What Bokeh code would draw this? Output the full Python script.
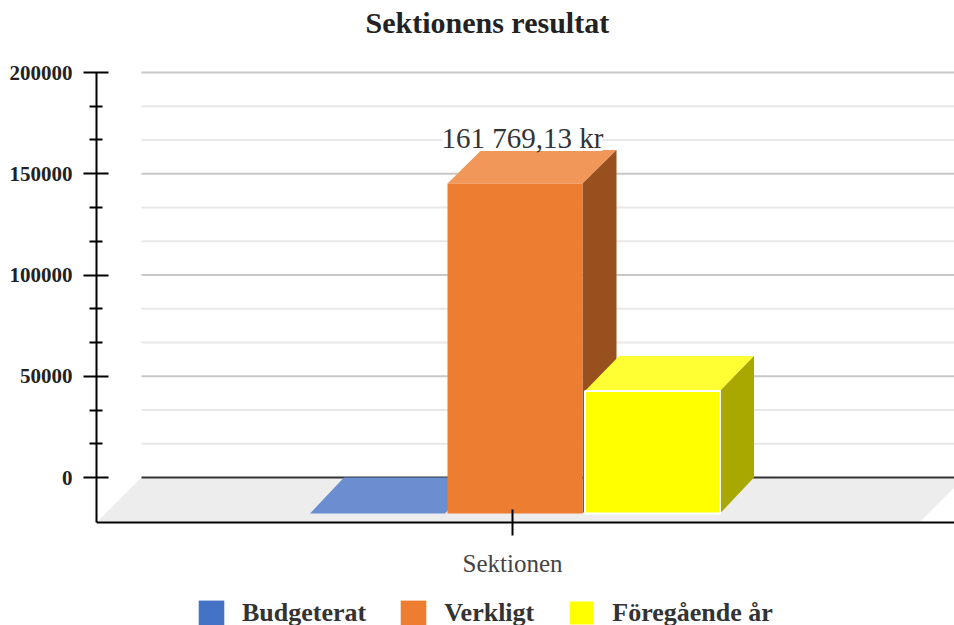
from bokeh.plotting import figure
from bokeh.models import Range1d, LinearAxis, FixedTicker, Legend, LegendItem, BasicTickFormatter
from bokeh.core.properties import value
from bokeh.embed import file_html
from bokeh.resources import INLINE

# ---- data
title_text = "Sektionens resultat"
category = "Sektionen"
series_names = ["Budgeterat", "Verkligt", "Föregående år"]
series_values = [0, 161769.13, 60000]
series_front = ["#4472c4", "#ed7d31", "#ffff00"]
series_top = ["#6a8ed0", "#f1975a", "#ffff33"]
series_side = ["#2f5089", "#98501e", "#a8a800"]
value_label = "161 769,13 kr"
major_values = [0, 50000, 100000, 150000, 200000]
minor_values = [16667, 33333, 66667, 83333, 116667, 133333, 166667, 183333]

# ---- geometry constants (pixels of the reference)
W, H = 954, 625
FONT = "Liberation Serif"
F_L, F_R, F_T, AXIS_B = 96, 954, 72, 522
ZERO_PX = 477
PX_PER_Y = (ZERO_PX - F_T) / 200000
PX_PER_X = 412.5
CAT_PX = 512
DX_PX, DY_PX = 34, 36
FRONT_SCALE = 330 / 327.6
BAR_W = 135 / PX_PER_X
PITCH = 137.5 / PX_PER_X
SHIFT = 2.5 / PX_PER_X
DX, DY = DX_PX / PX_PER_X, DY_PX / PX_PER_Y
FLOOR_DX = 45 / PX_PER_X

x0 = -(CAT_PX - F_L) / PX_PER_X
x1 = (F_R - CAT_PX) / PX_PER_X
y_axis_bottom = -(AXIS_B - ZERO_PX) / PX_PER_Y
y_axis_top = 200000
y0 = -(H - ZERO_PX) / PX_PER_Y
y1 = ZERO_PX / PX_PER_Y

p = figure(width=W, height=H, output_backend="svg", toolbar_location=None,
           x_range=Range1d(x0, x1), y_range=Range1d(y0, y1),
           x_axis_type=None, y_axis_type=None,
           min_border_left=F_L, min_border_right=0, min_border_top=0,
           min_border_bottom=0, margin=0)
p.outline_line_color = None
p.xgrid.visible = False
p.ygrid.visible = False

# floor
fr = (919 - CAT_PX) / PX_PER_X
p.patch([x0, x0 + FLOOR_DX, fr + FLOOR_DX, fr], [y_axis_bottom, 0, 0, y_axis_bottom],
        fill_color="#ededed", line_color=None)

# gridlines, drawn on the back wall
back_left = x0 + FLOOR_DX
p.segment([back_left] * len(minor_values), minor_values, [x1] * len(minor_values), minor_values,
          line_color="#e8e8e8", line_width=2)
maj = [v for v in major_values if v != 0]
p.segment([back_left] * len(maj), maj, [x1] * len(maj), maj, line_color="#c8c8c8", line_width=2)
p.segment([back_left], [0], [x1], [0], line_color="#333333", line_width=2)

# 3D bars
legend_items = []
centers = []
for i, name in enumerate(series_names):
    v = series_values[i]
    c = (i - 1) * PITCH + SHIFT
    centers.append(c)
    l, r = c - BAR_W / 2, c + BAR_W / 2
    b = -DY
    t = v * FRONT_SCALE - DY
    p.patch([l, l + DX, r + DX, r], [t, v, v, t], fill_color=series_top[i], line_color=None)
    if v > 0:
        p.patch([r, r + DX, r + DX, r], [b, 0, v, t], fill_color=series_side[i], line_color=None)
    line = "#ffffff" if i == 2 else None
    q = p.quad(left=[l], right=[r], top=[t], bottom=[b], fill_color=series_front[i],
               line_color=line, line_width=2)
    legend_items.append(LegendItem(label=name, renderers=[q]))

# value label with white backing
lab_x = centers[1] + 7.5 / PX_PER_X
p.quad(left=[lab_x - 80 / PX_PER_X], right=[lab_x + 80 / PX_PER_X],
       bottom=[series_values[1] - 1 / PX_PER_Y], top=[series_values[1] + 22 / PX_PER_Y],
       fill_color="#ffffff", line_color=None)
p.text(x=[lab_x], y=[series_values[1]], text=[value_label],
       text_font=value(FONT), text_font_size="29px", text_color="#333333",
       text_align="center", text_baseline="bottom", y_offset=4)

# axes
ya = LinearAxis(ticker=FixedTicker(ticks=major_values, minor_ticks=minor_values),
                formatter=BasicTickFormatter(use_scientific=False),
                bounds=(y_axis_bottom, y_axis_top))
ya.axis_line_color = "black"; ya.axis_line_width = 2
ya.major_tick_line_color = "black"; ya.major_tick_line_width = 2
ya.minor_tick_line_color = "black"; ya.minor_tick_line_width = 2
ya.major_tick_in = 12; ya.major_tick_out = 13
ya.minor_tick_in = 6; ya.minor_tick_out = 7
ya.major_label_text_font = FONT; ya.major_label_text_font_size = "21px"
ya.major_label_text_color = "#222222"; ya.major_label_text_font_style = "bold"
ya.major_label_standoff = 11
p.add_layout(ya, "left")

xa = LinearAxis(ticker=FixedTicker(ticks=[0]), major_label_overrides={0: category},
                fixed_location=y_axis_bottom)
xa.axis_line_color = "black"; xa.axis_line_width = 2
xa.major_tick_line_color = "black"; xa.major_tick_line_width = 2
xa.major_tick_in = 13; xa.major_tick_out = 13
xa.minor_tick_line_color = None
xa.major_label_text_font = FONT; xa.major_label_text_font_size = "25px"
xa.major_label_text_color = "#444444"; xa.major_label_standoff = 14
p.add_layout(xa, "below")

# legend
leg = Legend(items=legend_items, orientation="horizontal", location=(195 - F_L, -3),
             glyph_width=32, glyph_height=31, label_standoff=15, spacing=31, padding=0, margin=0,
             label_text_font=FONT, label_text_font_size="26px", label_text_font_style="bold",
             label_text_color="#333333", border_line_color=None, background_fill_alpha=0)
p.add_layout(leg, "center")

# title, inside the frame's upper band
p.text(x=[(365 - CAT_PX) / PX_PER_X], y=[(ZERO_PX - 22) / PX_PER_Y], text=[title_text],
       text_font=value(FONT), text_font_size="30px", text_font_style="bold",
       text_color="#222222", text_align="left", text_baseline="middle")

open("out.html", "w").write(file_html(p, INLINE))
